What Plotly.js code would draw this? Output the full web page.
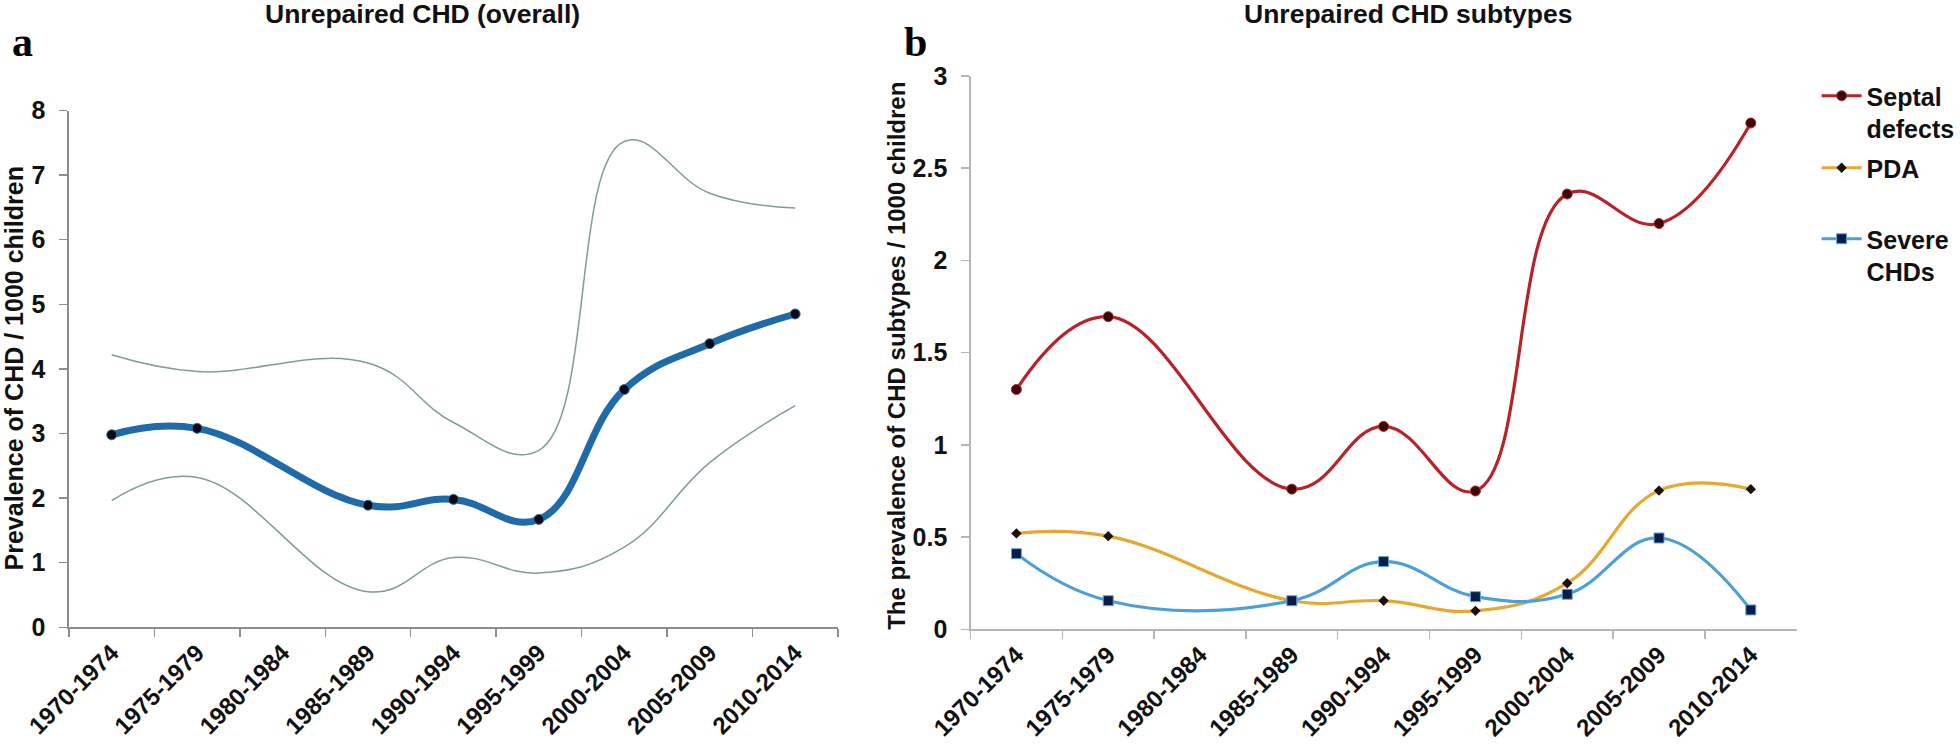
<!DOCTYPE html>
<html>
<head>
<meta charset="utf-8">
<script src="https://cdn.plot.ly/plotly-3.0.1.min.js"></script>
<style>
html,body{margin:0;padding:0;background:#ffffff;}
#chart{width:1960px;height:748px;}
</style>
</head>
<body>
<div id="chart"></div>
<script>
// ---- data ----
const periods = ['1970-1974','1975-1979','1980-1984','1985-1989','1990-1994','1995-1999','2000-2004','2005-2009','2010-2014'];
const overall      = [2.98, 3.08, null, 1.89, 1.98, 1.67, 3.68, 4.39, 4.85];
const overallUpper = [4.22, 3.96, null, 4.09, 3.17, 2.74, 7.52, 6.72, 6.49];
const overallLower = [1.96, 2.32, null, 0.55, 1.08, 0.84, 1.24, 2.55, 3.43];
const septal = [1.30, 1.695, null, 0.76, 1.10, 0.75, 2.36, 2.20, 2.745];
const pda    = [0.52, 0.505, null, 0.155, 0.155, 0.10, 0.25, 0.752, 0.76];
const severe = [0.41, 0.155, null, 0.155, 0.367, 0.177, 0.19, 0.495, 0.105];
const yTicksA = [0,1,2,3,4,5,6,7,8];
const yTicksB = [0,0.5,1,1.5,2,2.5,3];
const yTickTextB = ['0','0.5','1','1.5','2','2.5','3'];
const seriesNames = ['Septal<br>defects','PDA','Severe<br>CHDs'];

// ---- helpers (page geometry) ----
const W = 1960, H = 748;
const px = v => v / W;
const py = v => 1 - v / H;
const SANS = 'Liberation Sans, Arial, Helvetica, sans-serif';
const SERIF = 'Liberation Serif, Times New Roman, serif';

const greyA = '#8c8c8c';
const greyB = '#b5b5b5';

const spline = {shape:'spline', smoothing:1.2};

const data = [
  {x: periods, y: overallUpper, xaxis:'x', yaxis:'y', mode:'lines', connectgaps:true,
   line: Object.assign({color:'#7f9c9c', width:1.5}, spline), showlegend:false, hoverinfo:'skip'},
  {x: periods, y: overallLower, xaxis:'x', yaxis:'y', mode:'lines', connectgaps:true,
   line: Object.assign({color:'#7f9c9c', width:1.5}, spline), showlegend:false, hoverinfo:'skip'},
  {x: periods, y: overall, xaxis:'x', yaxis:'y', mode:'lines+markers', connectgaps:true,
   line: Object.assign({color:'#1f6aa8', width:7}, spline),
   marker:{symbol:'circle', size:10, color:'#0b0b18', line:{color:'#3b6f9f', width:1}},
   showlegend:false},
  {x: periods, y: septal, xaxis:'x2', yaxis:'y2', mode:'lines+markers', connectgaps:true,
   name: seriesNames[0], legend:'legend',
   line: Object.assign({color:'#b82329', width:3.2}, spline),
   marker:{symbol:'circle', size:10, color:'#3a0808', line:{color:'#b82329', width:1}}},
  {x: periods, y: pda, xaxis:'x2', yaxis:'y2', mode:'lines+markers', connectgaps:true,
   name: seriesNames[1], legend:'legend2',
   line: Object.assign({color:'#e4a833', width:3.2}, spline),
   marker:{symbol:'diamond', size:8, color:'#1a1208'}},
  {x: periods, y: severe, xaxis:'x2', yaxis:'y2', mode:'lines+markers', connectgaps:true,
   name: seriesNames[2], legend:'legend3',
   line: Object.assign({color:'#4d9fd9', width:3.2}, spline),
   marker:{symbol:'square', size:10, color:'#0b1d45', line:{color:'#5fa6dc', width:1}}}
];

const xTickFont = {family:SANS, size:24, color:'#111', weight:'bold'};
const yTickFont = {family:SANS, size:25, color:'#111', weight:'bold'};

function xAxis(domain, grey, lw){
  return {domain: domain, type:'category', categoryorder:'array', categoryarray: periods,
    range:[-0.5, 8.5], tickson:'boundaries', ticks:'outside', ticklen:8, tickwidth:1.5,
    tickcolor:grey, showline:true, linecolor:grey, linewidth:lw, tickangle:-45,
    tickfont:xTickFont, showgrid:false, zeroline:false, fixedrange:true};
}
function yAxis(domain, range, vals, text, grey, lw){
  const a = {domain: domain, range: range, tickmode:'array', tickvals: vals,
    ticks:'outside', ticklen:8, tickwidth:1.5, tickcolor:grey, showline:true,
    linecolor:grey, linewidth:lw, tickfont:yTickFont, ticklabelstandoff:9,
    showgrid:false, zeroline:false, fixedrange:true};
  if (text) a.ticktext = text;
  return a;
}
function legendAt(xPx, yPx){
  return {x: px(xPx), y: py(yPx), xanchor:'left', yanchor:'top',
    font:{family:SANS, size:25, color:'#111', weight:'bold'},
    bgcolor:'rgba(0,0,0,0)', borderwidth:0, itemwidth:40, valign:'top',
    tracegroupgap:0};
}

const layout = {
  width: W, height: H,
  margin:{l:0, r:0, t:0, b:0, pad:0},
  paper_bgcolor:'#ffffff', plot_bgcolor:'#ffffff',
  showlegend:true,
  xaxis:  Object.assign(xAxis([px(69.3), px(841.7)], greyA, 2), {anchor:'y'}),
  yaxis:  Object.assign(yAxis([py(627.3), py(110.5)], [0,8], yTicksA, null, greyA, 1.5), {anchor:'x'}),
  xaxis2: Object.assign(xAxis([px(975), px(1805)], greyB, 2), {anchor:'y2'}),
  yaxis2: Object.assign(yAxis([py(629.3), py(76)], [0,3], yTicksB, yTickTextB, greyB, 1.2), {anchor:'x2'}),
  legend:  legendAt(1825, 73),
  legend2: legendAt(1825, 145),
  legend3: legendAt(1825, 216),
  annotations: [
    {text:'Unrepaired CHD (overall)', xref:'paper', yref:'paper', x:px(424), y:py(14),
     xanchor:'center', yanchor:'middle', showarrow:false,
     font:{family:SANS, size:26.5, color:'#111', weight:'bold'}},
    {text:'Unrepaired CHD subtypes', xref:'paper', yref:'paper', x:px(1414), y:py(14),
     xanchor:'center', yanchor:'middle', showarrow:false,
     font:{family:SANS, size:26.5, color:'#111', weight:'bold'}},
    {text:'a', xref:'paper', yref:'paper', x:px(10), y:py(42),
     xanchor:'left', yanchor:'middle', showarrow:false,
     font:{family:SERIF, size:42, color:'#000', weight:'bold'}},
    {text:'b', xref:'paper', yref:'paper', x:px(906), y:py(42),
     xanchor:'left', yanchor:'middle', showarrow:false,
     font:{family:SERIF, size:42, color:'#000', weight:'bold'}},
    {text:'Prevalence of CHD / 1000 children', xref:'paper', yref:'paper', x:px(14), y:py(368.5),
     xanchor:'center', yanchor:'middle', textangle:-90, showarrow:false,
     font:{family:SANS, size:25, color:'#111', weight:'bold'}},
    {text:'The prevalence of CHD subtypes / 1000 children', xref:'paper', yref:'paper', x:px(900), y:py(356),
     xanchor:'center', yanchor:'middle', textangle:-90, showarrow:false,
     font:{family:SANS, size:24, color:'#111', weight:'bold'}}
  ]
};

Plotly.newPlot('chart', data, layout, {displayModeBar:false, staticPlot:true});
</script>
</body>
</html>
